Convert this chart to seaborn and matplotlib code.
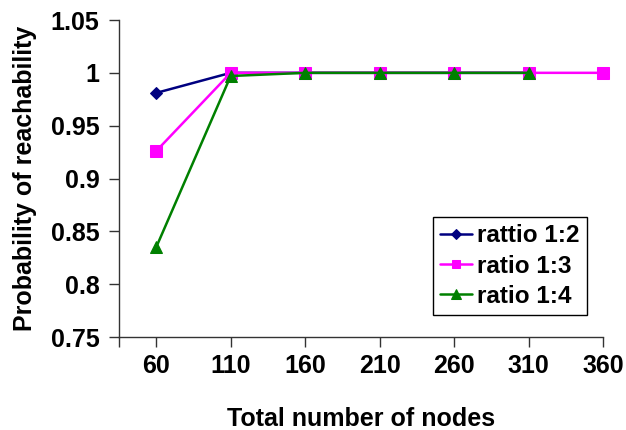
import matplotlib
matplotlib.use("Agg")
import matplotlib.pyplot as plt
import seaborn as sns
import pandas as pd
import numpy as np

categories = [60, 110, 160, 210, 260, 310, 360]
ratio_1_2 = [0.981, 1.0, 1.0, 1.0, 1.0, 1.0]
ratio_1_3 = [0.926, 1.0, 1.0, 1.0, 1.0, 1.0, 1.0]
ratio_1_4 = [0.835, 0.997, 1.0, 1.0, 1.0, 1.0]
series_names = ["rattio 1:2", "ratio 1:3", "ratio 1:4"]
y_ticks = [0.75, 0.8, 0.85, 0.9, 0.95, 1.0, 1.05]
y_tick_labels = ["0.75", "0.8", "0.85", "0.9", "0.95", "1", "1.05"]

sns.set_theme(style="white")
plt.rcParams['font.family'] = ['Liberation Sans', 'DejaVu Sans']
plt.rcParams['font.weight'] = 'bold'
plt.rcParams['text.color'] = 'black'
plt.rcParams['axes.labelcolor'] = 'black'

rows = []
for name, vals in zip(series_names, [ratio_1_2, ratio_1_3, ratio_1_4]):
    for i, v in enumerate(vals):
        rows.append({"pos": i, "value": v, "series": name})
df = pd.DataFrame(rows)

fig = plt.figure(figsize=(6.26, 4.30), dpi=100)
ax = fig.add_axes([119/626, 1 - 337/430, (603 - 119)/626, (337 - 20)/430])

colors = {"rattio 1:2": "#000080", "ratio 1:3": "#FF00FF", "ratio 1:4": "#008000"}
markers = {"rattio 1:2": "D", "ratio 1:3": "s", "ratio 1:4": "^"}
msizes = {"rattio 1:2": 6, "ratio 1:3": 8, "ratio 1:4": 9}

for name in series_names:
    sub = df[df.series == name]
    sns.lineplot(data=sub, x="pos", y="value", ax=ax, color=colors[name],
                 marker=markers[name], markersize=msizes[name],
                 markeredgecolor=colors[name], linewidth=1.8, label=name,
                 clip_on=False)

ax.set_xlim(-0.5, len(categories) - 1)
ax.set_ylim(0.75, 1.05)
ax.set_xticks(range(len(categories)))
ax.set_xticklabels([str(c) for c in categories])
ax.set_xticks([-0.5], minor=True)
ax.set_yticks(y_ticks)
ax.set_yticklabels(y_tick_labels)

for s in ["top", "right"]:
    ax.spines[s].set_visible(False)
for s in ["left", "bottom"]:
    ax.spines[s].set_color("#333333")
    ax.spines[s].set_linewidth(1.0)

ax.tick_params(axis="both", which="both", direction="out", length=7, width=1.0,
               color="#333333", labelsize=18, labelcolor="black")
ax.tick_params(axis="x", which="both", bottom=True, pad=5)
ax.tick_params(axis="y", left=True, pad=7)
for lab in ax.get_xticklabels() + ax.get_yticklabels():
    lab.set_fontweight("bold")

ax.set_xlabel("Total number of nodes", fontsize=18, fontweight="bold",
              labelpad=21, color="black")
ax.set_ylabel("Probability of reachability", fontsize=18, fontweight="bold",
              labelpad=10, color="black")

leg = ax.legend(loc="upper left", bbox_to_anchor=((433 - 119)/484, 1 - (217 - 20)/317),
                frameon=True, fancybox=False, edgecolor="black", framealpha=1,
                prop={"size": 17.5, "weight": "bold"}, handlelength=1.3,
                handletextpad=0.2, labelspacing=0.3, borderpad=0.3,
                borderaxespad=0, markerscale=0.8)
leg.get_frame().set_linewidth(1.0)
for t in leg.get_texts():
    t.set_color("black")

fig.savefig("out.png", dpi=100, facecolor="white")
